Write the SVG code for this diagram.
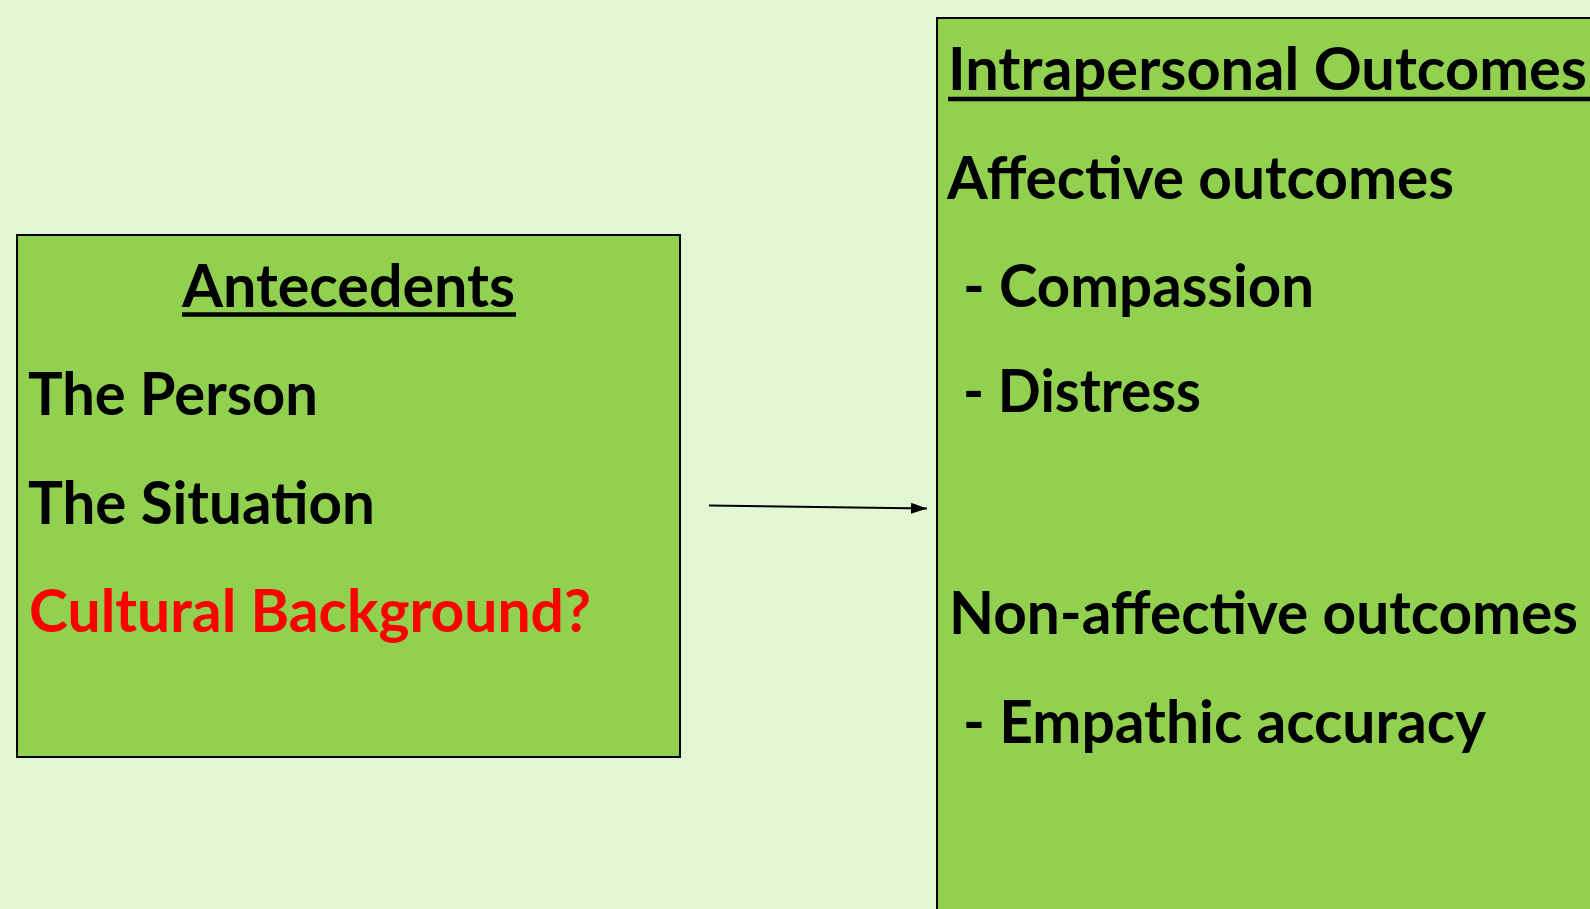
<svg xmlns="http://www.w3.org/2000/svg" width="1590" height="909" viewBox="0 0 1590 909">
<defs>
<style>
.box{fill:#92D050;stroke:#000;stroke-width:2}
.t{font-family:Lato,"Liberation Sans",sans-serif;font-weight:bold;font-size:60px;fill:#000}
.red{fill:#FF0000}
.ul{stroke:#000;stroke-width:4.5}
.conn{stroke:#000;stroke-width:2;fill:none}
</style>
<marker id="arr" markerWidth="16" markerHeight="11" refX="16" refY="5.5" orient="auto" markerUnits="userSpaceOnUse" viewBox="0 0 16 11">
<path d="M0,0 L16,5.5 L0,11 Z" fill="#000"/>
</marker>
</defs>
<rect width="1590" height="909" fill="#E1F6D3"/>
<g id="antecedents">
<rect class="box" x="17" y="235" width="663" height="522"/>
<text class="t" x="182" y="306.5" textLength="333" lengthAdjust="spacingAndGlyphs">Antecedents</text>
<line class="ul" x1="182" y1="314.5" x2="516" y2="314.5"/>
<text class="t" x="28" y="415" textLength="290" lengthAdjust="spacingAndGlyphs">The Person</text>
<text class="t" x="28" y="523.5" textLength="347" lengthAdjust="spacingAndGlyphs">The Situation</text>
<text class="t red" x="29" y="632" textLength="562" lengthAdjust="spacingAndGlyphs">Cultural Background?</text>
</g>
<g id="outcomes">
<rect class="box" x="937" y="18" width="700" height="950"/>
<text class="t" x="948" y="89.5" textLength="639" lengthAdjust="spacingAndGlyphs">Intrapersonal Outcomes</text>
<line class="ul" x1="948" y1="99" x2="1590" y2="99"/>
<text class="t" x="947" y="198.5" textLength="507" lengthAdjust="spacingAndGlyphs">Affective outcomes</text>
<text class="t" x="963" y="306.5" textLength="351" lengthAdjust="spacingAndGlyphs">- Compassion</text>
<text class="t" x="963" y="411.5" textLength="238" lengthAdjust="spacingAndGlyphs">- Distress</text>
<text class="t" x="949" y="634" textLength="629" lengthAdjust="spacingAndGlyphs">Non-affective outcomes</text>
<text class="t" x="963" y="743" textLength="523" lengthAdjust="spacingAndGlyphs">- Empathic accuracy</text>
</g>
<g id="connectors">
<line class="conn" x1="709" y1="505.5" x2="927" y2="508.5" marker-end="url(#arr)"/>
</g>
</svg>
